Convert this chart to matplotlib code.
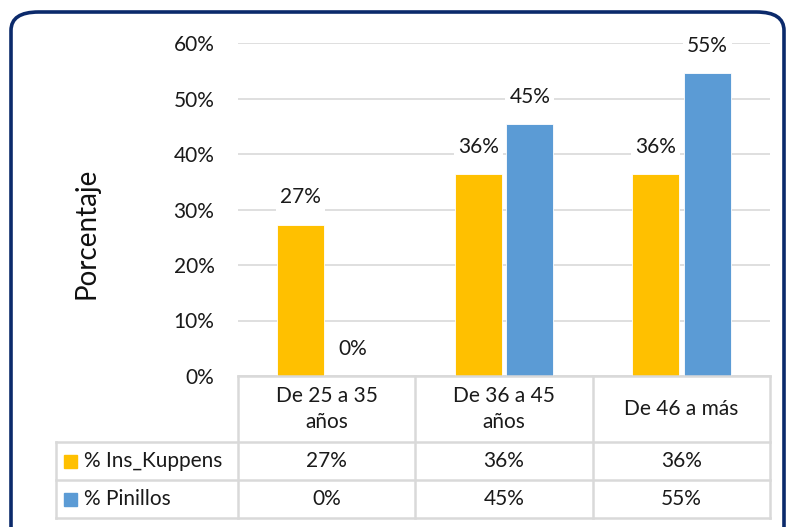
import matplotlib.pyplot as plt
import numpy as np
from matplotlib.patches import FancyBboxPatch, Rectangle
from matplotlib.lines import Line2D

plt.rcParams['font.family'] = ['Lato', 'DejaVu Sans']

# datos
categorias = ['De 25 a 35\naños', 'De 36 a 45\naños', 'De 46 a más']
series = ['% Ins_Kuppens', '% Pinillos']
kuppens = [0.2727, 0.3636, 0.3636]
pinillos = [0.0, 0.4545, 0.5455]
colores = ['#FFC000', '#5B9BD5']

W, H = 787, 527
fs = 15
tc = '#1A1A1A'
fig = plt.figure(figsize=(W / 100, H / 100), dpi=100)

def fx(px):
    return px / W

def fy(py):
    return 1 - py / H

# marco redondeado
marco = FancyBboxPatch((fx(11), fy(545)), fx(773), (545 - 12) / H,
                       boxstyle="round,pad=0,rounding_size=0.035",
                       transform=fig.transFigure, fill=False,
                       edgecolor='#0B2A6B', linewidth=2.6, clip_on=False)
fig.patches.append(marco)

x0, x1 = 238, 770
ytop, ybot = 43, 376
ax = fig.add_axes([fx(x0), fy(ybot), fx(x1 - x0), (ybot - ytop) / H])

x = np.arange(len(categorias))
ancho = 0.265
off = 0.146
for i, (vals, col) in enumerate(zip([kuppens, pinillos], colores)):
    pos = x + (i * 2 - 1) * off
    ax.bar(pos, vals, width=ancho, color=col, edgecolor='white', linewidth=0.6,
           zorder=3)
    for p, v in zip(pos, vals):
        ax.text(p, v + 0.031, f'{round(v * 100):.0f}%', ha='center', va='bottom',
                fontsize=fs, color=tc, zorder=4,
                bbox=dict(facecolor='white', edgecolor='none', pad=3))

ax.set_xlim(-0.5, len(categorias) - 0.5)
ax.set_ylim(0, 0.6)
ticks = np.arange(0, 0.61, 0.1)
ax.set_yticks(ticks)
ax.set_yticklabels([f'{int(round(t * 100))}%' for t in ticks])
ax.tick_params(axis='y', length=0, labelsize=fs, pad=17, labelcolor=tc)
ax.set_xticks([])
ax.grid(axis='y', color='#D9D9D9', linewidth=1.2, zorder=0)
for s in ax.spines.values():
    s.set_visible(False)

fig.text(fx(86), fy(233), 'Porcentaje', rotation=90, ha='center', va='center',
         fontsize=20, color='#111111')

# tabla de datos
col_w = (x1 - x0) / len(categorias)
lc = '#D9D9D9'
lw = 1.8
filas = [376, 442, 480, 518]
leg_x = 56

def hline(y, xa, xb):
    fig.lines.append(Line2D([fx(xa), fx(xb)], [fy(y), fy(y)], color=lc, lw=lw,
                            transform=fig.transFigure))

def vline(xv, ya, yb):
    fig.lines.append(Line2D([fx(xv), fx(xv)], [fy(ya), fy(yb)], color=lc, lw=lw,
                            transform=fig.transFigure))

hline(filas[0], x0, x1)
for yv in filas[1:]:
    hline(yv, leg_x, x1)
vline(leg_x, filas[1], filas[3])
for k in range(len(categorias) + 1):
    vline(x0 + k * col_w, filas[0], filas[3])

for k, cat in enumerate(categorias):
    cx = x0 + (k + 0.5) * col_w
    fig.text(fx(cx), fy((filas[0] + filas[1]) / 2), cat, ha='center', va='center',
             fontsize=fs, color=tc, linespacing=1.4)

for r, (nombre, vals, col) in enumerate(zip(series, [kuppens, pinillos], colores)):
    yc = (filas[r + 1] + filas[r + 2]) / 2
    fig.patches.append(Rectangle((fx(64), fy(yc + 6.5)), fx(13), 13 / H,
                                 transform=fig.transFigure, color=col))
    fig.text(fx(84), fy(yc), nombre, ha='left', va='center', fontsize=fs,
             color=tc)
    for k, v in enumerate(vals):
        cx = x0 + (k + 0.5) * col_w
        fig.text(fx(cx), fy(yc), f'{round(v * 100):.0f}%', ha='center', va='center',
                 fontsize=fs, color=tc)

fig.savefig('out.png', dpi=100)
